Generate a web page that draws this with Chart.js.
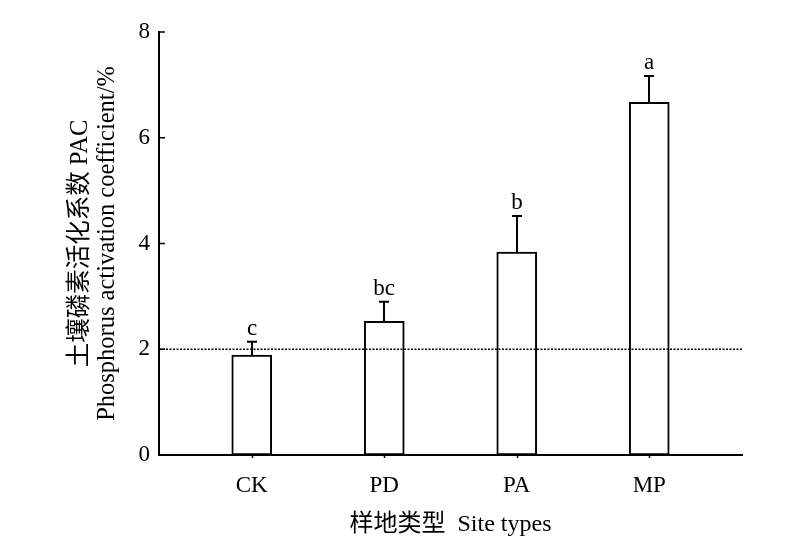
<!DOCTYPE html>
<html><head><meta charset="utf-8">
<script src="https://cdn.jsdelivr.net/npm/chart.js@4/dist/chart.umd.min.js"></script>
<style>html,body{margin:0;padding:0;background:#fff}</style>
</head><body>
<canvas id="c" width="800" height="555"></canvas>
<script>
const categories = ['CK', 'PD', 'PA', 'MP'];
const positions = [1, 2, 3, 4];
const means = [1.89, 2.53, 3.84, 6.67];
const errors = [0.25, 0.37, 0.68, 0.50];
const letters = ['c', 'bc', 'b', 'a'];
const yTickValues = [0, 2, 4, 6, 8];
const referenceLevel = 2;
const xTitle = '样地类型  Site types';
const yTitle = ['土壤磷素活化系数 PAC', 'Phosphorus activation coefficient/%'];

const FAMILY = "'Liberation Serif', 'Noto Sans CJK SC', serif";

const overlay = {
  id: 'overlay',
  afterDatasetsDraw(chart) {
    const { ctx, chartArea: a, scales: { x, y } } = chart;
    ctx.save();
    // dotted reference line
    const yr = y.getPixelForValue(referenceLevel);
    ctx.strokeStyle = '#000';
    ctx.lineWidth = 1.5;
    ctx.setLineDash([2, 1.5]);
    ctx.beginPath(); ctx.moveTo(a.left, yr); ctx.lineTo(a.right, yr); ctx.stroke();
    ctx.setLineDash([]);
    // error bars + letters
    ctx.lineWidth = 2;
    ctx.fillStyle = '#000';
    ctx.font = "23px " + FAMILY;
    ctx.textAlign = 'center';
    ctx.textBaseline = 'alphabetic';
    means.forEach((m, i) => {
      const px = Math.round(x.getPixelForValue(positions[i]));
      const y0 = y.getPixelForValue(m);
      const y1 = y.getPixelForValue(m + errors[i]);
      ctx.beginPath();
      ctx.moveTo(px, y0); ctx.lineTo(px, y1);
      ctx.moveTo(px - 5, y1); ctx.lineTo(px + 5, y1);
      ctx.stroke();
      ctx.fillText(letters[i], px, y1 - 7);
    });
    // inward y tick marks
    ctx.beginPath();
    y.ticks.forEach(t => {
      const py = y.getPixelForValue(t.value);
      ctx.moveTo(a.left, py); ctx.lineTo(a.left + 6, py);
    });
    // tiny x tick marks below axis
    x.ticks.forEach(t => {
      const px = Math.round(x.getPixelForValue(t.value)) + 0.5;
      ctx.moveTo(px, a.bottom); ctx.lineTo(px, a.bottom + 3);
    });
    ctx.lineWidth = 1.5;
    ctx.stroke();
    ctx.restore();
  }
};

new Chart(document.getElementById('c'), {
  type: 'bar',
  data: {
    datasets: [{
      data: positions.map((p, i) => ({ x: p, y: means[i] })),
      backgroundColor: '#fff',
      borderColor: '#000',
      borderWidth: 2,
      borderSkipped: false,
      barThickness: 40
    }]
  },
  options: {
    responsive: false,
    animation: false,
    events: [],
    layout: { padding: { left: 67, right: 58, top: 32, bottom: 10 } },
    plugins: { legend: { display: false }, tooltip: { enabled: false } },
    scales: {
      x: {
        type: 'linear',
        offset: false,
        min: 0.3,
        max: 4.7,
        z: 1,
        afterBuildTicks: s => { s.ticks = positions.map(v => ({ value: v })); },
        afterFit: s => { s.height = 90; },
        grid: { display: false, drawTicks: false, offset: false },
        border: { display: true, color: '#000', width: 2 },
        ticks: {
          color: '#000',
          padding: 17,
          font: { family: FAMILY, size: 23 },
          callback: v => { const k = positions.indexOf(v); return k >= 0 ? categories[k] : ''; }
        },
        title: {
          display: true,
          text: xTitle,
          color: '#000',
          font: { family: FAMILY, size: 24, lineHeight: 1.2 },
          padding: { top: 0, bottom: 6 }
        }
      },
      y: {
        min: 0,
        max: 8,
        z: 1,
        afterBuildTicks: s => { s.ticks = yTickValues.map(v => ({ value: v })); },
        afterFit: s => { s.width = 92; },
        grid: { display: false, drawTicks: false },
        border: { display: true, color: '#000', width: 2 },
        ticks: {
          color: '#000',
          padding: 9,
          font: { family: FAMILY, size: 23 }
        },
        title: {
          display: true,
          text: yTitle,
          color: '#000',
          font: { family: FAMILY, size: 24.5, lineHeight: 1.1 },
          padding: { top: 0, bottom: 0 }
        }
      }
    }
  },
  plugins: [overlay]
});
</script>
</body></html>
